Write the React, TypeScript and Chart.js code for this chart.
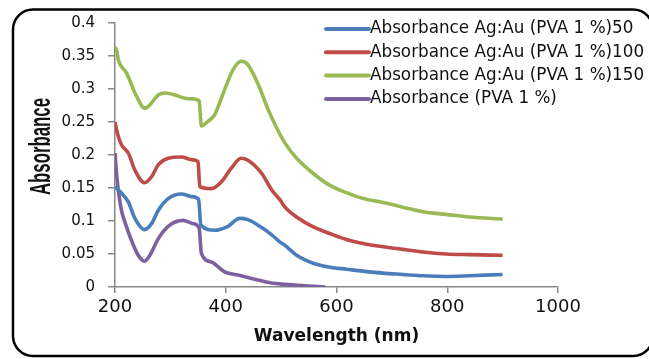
import React, { useEffect, useRef } from "react";
import { Chart, registerables } from "chart.js";

Chart.register(...registerables);

const seriesLabels = [
  "Absorbance Ag:Au (PVA 1 %)50",
  "Absorbance Ag:Au (PVA 1 %)100",
  "Absorbance Ag:Au (PVA 1 %)150",
  "Absorbance (PVA 1 %)",
];
const seriesColors = ["#4A7EBB", "#BE4B48", "#98B954", "#7D60A0"];

const wl50 = [200, 212, 224, 236, 253, 266, 278, 296, 320, 338, 351, 355, 380, 404, 425, 440, 465, 483, 498, 507, 528, 558, 588, 618, 648, 684, 720, 756, 798, 840, 900];
const abs50 = [0.152, 0.142, 0.129, 0.104, 0.087, 0.096, 0.116, 0.134, 0.141, 0.137, 0.133, 0.094, 0.086, 0.092, 0.104, 0.102, 0.09, 0.079, 0.068, 0.063, 0.048, 0.036, 0.03, 0.027, 0.024, 0.021, 0.019, 0.017, 0.016, 0.017, 0.019];

const wl100 = [200, 203, 206, 212, 224, 236, 253, 266, 278, 296, 320, 338, 350, 353, 374, 392, 410, 428, 440, 465, 483, 498, 507, 528, 558, 588, 618, 648, 684, 720, 756, 798, 840, 900];
const abs100 = [0.25, 0.238, 0.228, 0.215, 0.203, 0.177, 0.158, 0.167, 0.185, 0.195, 0.197, 0.193, 0.19, 0.152, 0.149, 0.159, 0.18, 0.195, 0.192, 0.172, 0.147, 0.132, 0.121, 0.106, 0.091, 0.081, 0.072, 0.066, 0.061, 0.057, 0.053, 0.05, 0.049, 0.048];

const wl150 = [200, 202, 206, 221, 236, 254, 263, 278, 290, 308, 326, 341, 352, 356, 368, 380, 398, 413, 428, 440, 459, 477, 495, 507, 528, 558, 588, 618, 648, 684, 720, 756, 798, 840, 900];
const abs150 = [0.356, 0.362, 0.344, 0.324, 0.294, 0.271, 0.276, 0.291, 0.294, 0.291, 0.286, 0.285, 0.282, 0.244, 0.251, 0.261, 0.299, 0.329, 0.342, 0.337, 0.306, 0.268, 0.236, 0.218, 0.195, 0.172, 0.154, 0.143, 0.134, 0.128, 0.121, 0.114, 0.11, 0.106, 0.103];

const wlPva = [200, 203, 207, 212, 220, 230, 242, 253, 263, 278, 296, 323, 341, 352, 356, 374, 398, 422, 447, 483, 507, 540, 580];
const absPva = [0.203, 0.17, 0.14, 0.115, 0.093, 0.07, 0.048, 0.039, 0.048, 0.073, 0.092, 0.101, 0.096, 0.089, 0.051, 0.038, 0.023, 0.018, 0.013, 0.006, 0.004, 0.002, 0.0];

const xTicks = [200, 400, 600, 800, 1000];
const yTicks = [0, 0.05, 0.1, 0.15, 0.2, 0.25, 0.3, 0.35, 0.4];
const yTitle = "Absorbance";

const seriesX = [wl50, wl100, wl150, wlPva];
const seriesY = [abs50, abs100, abs150, absPva];

const frameAndLegend = {
  id: "frameAndLegend",
  afterDraw(chart: any) {
    const ctx = chart.ctx;
    ctx.save();
    // rounded outer frame
    ctx.strokeStyle = "#000";
    ctx.lineWidth = 2.5;
    ctx.beginPath();
    if (ctx.roundRect) {
      ctx.roundRect(13, 9.5, 640, 346.5, 20);
    } else {
      ctx.rect(13, 9.5, 640, 346.5);
    }
    ctx.stroke();

    // condensed vertical axis title
    ctx.save();
    ctx.font = 'bold 29px "Liberation Sans"';
    const w = ctx.measureText(yTitle).width;
    const area = chart.chartArea;
    ctx.translate(50, (area.top + area.bottom) / 2 - 8.5);
    ctx.rotate(-Math.PI / 2);
    ctx.scale(97 / w, 1);
    ctx.fillStyle = "#111";
    ctx.textAlign = "center";
    ctx.textBaseline = "alphabetic";
    ctx.fillText(yTitle, 0, 0);
    ctx.restore();

    // legend
    const rowY = [29, 52.3, 75.6, 98.9];
    ctx.font = '16.8px "DejaVu Sans"';
    ctx.textBaseline = "middle";
    ctx.textAlign = "left";
    chart.data.datasets.forEach((ds: any, i: number) => {
      const y = rowY[i];
      ctx.strokeStyle = ds.borderColor;
      ctx.lineWidth = 4;
      ctx.lineCap = "round";
      ctx.beginPath();
      ctx.moveTo(326, y);
      ctx.lineTo(369, y);
      ctx.stroke();
      ctx.fillStyle = "#111";
      ctx.fillText(ds.label, 370, y);
    });
    ctx.restore();
  },
};

export default function App() {
  const ref = useRef<HTMLCanvasElement | null>(null);
  useEffect(() => {
    if (!ref.current) return;
    const datasets = seriesLabels.map((label, i) => ({
      label,
      data: seriesX[i].map((x, j) => ({ x, y: seriesY[i][j] })),
      borderColor: seriesColors[i],
      backgroundColor: seriesColors[i],
      borderWidth: 3.6,
      pointRadius: 0,
      cubicInterpolationMode: "monotone" as const,
      fill: false,
    }));
    const chart = new Chart(ref.current, {
      type: "line",
      data: { datasets },
      options: {
        animation: false,
        responsive: false,
        devicePixelRatio: 1,
        layout: { padding: { left: 0, top: 23, right: 91, bottom: 12 } },
        plugins: { legend: { display: false }, title: { display: false }, tooltip: { enabled: false } },
        scales: {
          x: {
            type: "linear",
            min: 200,
            max: 1000,
            afterFit: (s: any) => { s.height = 60; },
            afterBuildTicks: (s: any) => { s.ticks = xTicks.map((v) => ({ value: v })); },
            ticks: { font: { family: "DejaVu Sans", size: 18 }, color: "#111", padding: 4, maxRotation: 0, callback: (v: any) => String(v) },
            grid: { drawOnChartArea: false, drawTicks: true, tickLength: 6, color: "#888", lineWidth: 1.5 },
            border: { display: true, color: "#888", width: 1.5 },
            title: { display: true, text: "Wavelength (nm)", font: { family: "DejaVu Sans", size: 17, weight: "bold" }, color: "#111", padding: { top: 0, bottom: 0 } },
          },
          y: {
            type: "linear",
            min: 0,
            max: 0.4,
            afterFit: (s: any) => { s.width = 115; },
            afterBuildTicks: (s: any) => { s.ticks = yTicks.map((v) => ({ value: v })); },
            ticks: {
              font: { family: "DejaVu Sans", size: 15 },
              color: "#111",
              padding: 13,
              callback: (v: any) => String(Math.round(Number(v) * 100) / 100),
            },
            grid: { drawOnChartArea: false, drawTicks: true, tickLength: 7, color: "#888", lineWidth: 1.5 },
            border: { display: true, color: "#888", width: 1.5 },
            title: { display: false },
          },
        },
      },
      plugins: [frameAndLegend],
    });
    return () => chart.destroy();
  }, []);
  return (
    <div style={{ position: "fixed", left: 0, top: 0, width: 649, height: 359, background: "#fff" }}>
      <canvas ref={ref} width={649} height={359} style={{ display: "block" }} />
    </div>
  );
}
